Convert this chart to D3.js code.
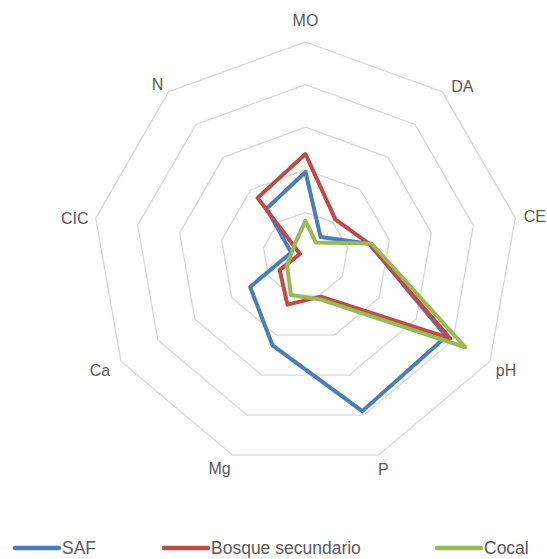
<!DOCTYPE html>
<html><head><meta charset="utf-8">
<script src="https://cdn.jsdelivr.net/npm/d3@7"></script>
<style>body{margin:0;background:#fff}svg{display:block}</style>
</head><body>
<script>
const axesLabels = ["MO","DA","CE","pH","P","Mg","Ca","CIC","N"];
const seriesNames = ["SAF","Bosque secundario","Cocal"];
const safValues    = [1.95, 0.55, 1.52, 3.82, 3.90, 2.26, 1.50, 0.34, 1.42];
const bosqueValues = [2.37, 1.09, 1.52, 3.92, 1.04, 1.24, 0.70, 0.13, 1.75];
const cocalValues  = [0.80, 0.38, 1.57, 4.33, 1.12, 1.00, 0.50, 0.33, 0.37];
const ringTicks = [1, 2, 3, 4, 5];
const colors = ["#4A7EBB", "#BE4B48", "#98B954"];

const W = 547, H = 559, cx = 305.5, cy = 255, R = 213;
const svg = d3.select("body").append("svg").attr("width", W).attr("height", H);
const r = d3.scaleLinear().domain([0, 5]).range([0, R]);
const ang = d3.scalePoint().domain(axesLabels).range([0, 2*Math.PI*(axesLabels.length-1)/axesLabels.length]);
const pt = (a, v) => [cx + r(v)*Math.sin(ang(a)), cy - r(v)*Math.cos(ang(a))];

const g = svg.append("g");
const ringLine = d3.line().curve(d3.curveLinearClosed);
g.selectAll("path.ring").data(ringTicks).join("path")
  .attr("class","ring")
  .attr("d", t => ringLine(axesLabels.map(a => pt(a, t))))
  .attr("fill","none").attr("stroke","#d9d9d9").attr("stroke-width",1.3);

// labels: [dx, dy, anchor]
const labelOff = {MO:[0,-22,"middle"],DA:[20,-5,"middle"],CE:[25,-2,"end"],pH:[16,9,"middle"],P:[5,14,"middle"],
  Mg:[-13,13,"middle"],Ca:[-21,9,"middle"],CIC:[-21,0,"middle"],N:[-11,-7,"middle"]};
g.selectAll("text.lab").data(axesLabels).join("text")
  .attr("class","lab")
  .attr("x", a => a === "CE" ? 546 : pt(a,5)[0] + labelOff[a][0])
  .attr("y", a => pt(a,5)[1] + labelOff[a][1])
  .attr("text-anchor", a => labelOff[a][2]).attr("dominant-baseline","central")
  .attr("font-family","Liberation Sans, Arial, sans-serif").attr("font-size",16)
  .attr("fill","#595959").text(a => a);

const series = [safValues, bosqueValues, cocalValues];
g.selectAll("path.series").data(series).join("path")
  .attr("class","series")
  .attr("d", vals => ringLine(axesLabels.map((a,i) => pt(a, vals[i]))))
  .attr("fill","none").attr("stroke",(d,i)=>colors[i]).attr("stroke-width",4)
  .attr("stroke-linejoin","round");

const legX = [15, 164, 437];
const lg = svg.append("g").selectAll("g").data(seriesNames).join("g")
  .attr("transform",(d,i)=>`translate(${legX[i]},548)`);
lg.append("line").attr("x1",0).attr("x2",44).attr("y1",0).attr("y2",0)
  .attr("stroke",(d,i)=>colors[i]).attr("stroke-width",4.5).attr("stroke-linecap","round");
lg.append("text").attr("x",47).attr("y",0).attr("dominant-baseline","central")
  .attr("font-family","Liberation Sans, Arial, sans-serif").attr("font-size",17.5)
  .attr("fill","#595959").text(d=>d);
</script>
</body></html>
